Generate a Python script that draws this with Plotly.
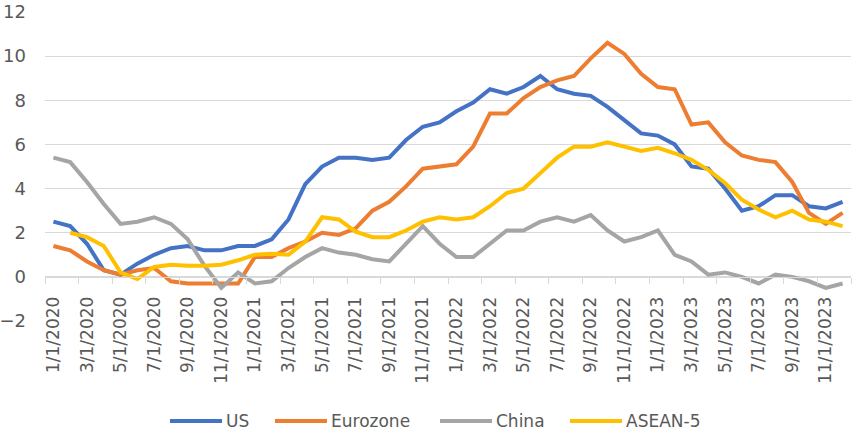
import plotly.graph_objects as go

# ---------------- data ----------------
months = [
    "1/1/2020", "2/1/2020", "3/1/2020", "4/1/2020", "5/1/2020", "6/1/2020",
    "7/1/2020", "8/1/2020", "9/1/2020", "10/1/2020", "11/1/2020", "12/1/2020",
    "1/1/2021", "2/1/2021", "3/1/2021", "4/1/2021", "5/1/2021", "6/1/2021",
    "7/1/2021", "8/1/2021", "9/1/2021", "10/1/2021", "11/1/2021", "12/1/2021",
    "1/1/2022", "2/1/2022", "3/1/2022", "4/1/2022", "5/1/2022", "6/1/2022",
    "7/1/2022", "8/1/2022", "9/1/2022", "10/1/2022", "11/1/2022", "12/1/2022",
    "1/1/2023", "2/1/2023", "3/1/2023", "4/1/2023", "5/1/2023", "6/1/2023",
    "7/1/2023", "8/1/2023", "9/1/2023", "10/1/2023", "11/1/2023", "12/1/2023",
]

us = [2.5, 2.3, 1.5, 0.3, 0.1, 0.6, 1.0, 1.3, 1.4, 1.2, 1.2, 1.4,
      1.4, 1.7, 2.6, 4.2, 5.0, 5.4, 5.4, 5.3, 5.4, 6.2, 6.8, 7.0,
      7.5, 7.9, 8.5, 8.3, 8.6, 9.1, 8.5, 8.3, 8.2, 7.7, 7.1, 6.5,
      6.4, 6.0, 5.0, 4.9, 4.0, 3.0, 3.2, 3.7, 3.7, 3.2, 3.1, 3.4]

eurozone = [1.4, 1.2, 0.7, 0.3, 0.1, 0.3, 0.4, -0.2, -0.3, -0.3, -0.3, -0.3,
            0.9, 0.9, 1.3, 1.6, 2.0, 1.9, 2.2, 3.0, 3.4, 4.1, 4.9, 5.0,
            5.1, 5.9, 7.4, 7.4, 8.1, 8.6, 8.9, 9.1, 9.9, 10.6, 10.1, 9.2,
            8.6, 8.5, 6.9, 7.0, 6.1, 5.5, 5.3, 5.2, 4.3, 2.9, 2.4, 2.9]

china = [5.4, 5.2, 4.3, 3.3, 2.4, 2.5, 2.7, 2.4, 1.7, 0.5, -0.5, 0.2,
         -0.3, -0.2, 0.4, 0.9, 1.3, 1.1, 1.0, 0.8, 0.7, 1.5, 2.3, 1.5,
         0.9, 0.9, 1.5, 2.1, 2.1, 2.5, 2.7, 2.5, 2.8, 2.1, 1.6, 1.8,
         2.1, 1.0, 0.7, 0.1, 0.2, 0.0, -0.3, 0.1, 0.0, -0.2, -0.5, -0.3]

asean5 = [None, 2.0, 1.8, 1.4, 0.2, -0.1, 0.45, 0.55, 0.5, 0.5, 0.55, 0.75,
          1.0, 1.05, 1.0, 1.6, 2.7, 2.6, 2.05, 1.8, 1.8, 2.1, 2.5, 2.7,
          2.6, 2.7, 3.2, 3.8, 4.0, 4.7, 5.4, 5.9, 5.9, 6.1, 5.9, 5.7,
          5.85, 5.6, 5.3, 4.85, 4.25, 3.5, 3.05, 2.7, 3.0, 2.6, 2.5, 2.3]

series_names = ["US", "Eurozone", "China", "ASEAN-5"]
series_values = [us, eurozone, china, asean5]
colors = ["#4472C4", "#ED7D31", "#A5A5A5", "#FFC000"]

y_ticks = [-2, 0, 2, 4, 6, 8, 10, 12]
y_range = [-2, 12]

# ---------------- figure ----------------
x_idx = list(range(len(months)))
label_step = 2
tick_vals = x_idx[::label_step]
tick_text = months[::label_step]
boundary_ticks = [v - 0.5 for v in range(0, len(months) + 1, label_step)]

FONT = "DejaVu Sans"
TXT = "#595959"
GRID = "#D9D9D9"

M_L, M_R, M_T, M_B = 45, 3, 12, 116
W, H = 854, 437

fig = go.Figure()
for name, vals, col in zip(series_names, series_values, colors):
    fig.add_trace(go.Scatter(
        x=x_idx, y=vals, name=name, mode="lines",
        line=dict(color=col, width=4, shape="linear"),
        connectgaps=False, showlegend=False,
    ))

axis_pos = (0 - y_range[0]) / (y_range[1] - y_range[0])

fig.update_layout(
    width=W, height=H,
    margin=dict(l=M_L, r=M_R, t=M_T, b=M_B, autoexpand=False),
    paper_bgcolor="white", plot_bgcolor="white",
    font=dict(family=FONT, color=TXT),
    xaxis=dict(
        range=[-0.5, len(months) - 0.5],
        tickmode="array", tickvals=tick_vals, ticktext=tick_text,
        tickangle=-90, ticks="", showgrid=False, zeroline=False,
        showline=True, linecolor=GRID, linewidth=1,
        anchor="free", position=axis_pos, automargin=False,
        tickfont=dict(family=FONT, size=17, color=TXT),
        ticklabelstandoff=12,
        minor=dict(tickmode="array", tickvals=boundary_ticks,
                   ticks="outside", ticklen=6, tickcolor=GRID,
                   tickwidth=1, showgrid=False),
    ),
    yaxis=dict(
        range=y_range, tickmode="array", tickvals=y_ticks,
        showgrid=True, gridcolor=GRID, gridwidth=1,
        zeroline=False, showline=False, ticks="", automargin=False,
        tickfont=dict(family=FONT, size=18, color=TXT),
        ticklabelstandoff=18,
    ),
)

# custom legend below the chart (Excel style long line samples)
legend_x_px = [170, 275, 440, 570]
sample_len = 52
plot_w = W - M_L - M_R
plot_h = H - M_T - M_B
legend_y = ((H - M_B) - 421) / plot_h
for name, col, px in zip(series_names, colors, legend_x_px):
    x0 = (px - M_L) / plot_w
    x1 = (px + sample_len - M_L) / plot_w
    fig.add_shape(type="line", xref="paper", yref="paper",
                  x0=x0, x1=x1, y0=legend_y, y1=legend_y,
                  line=dict(color=col, width=4))
    fig.add_annotation(xref="paper", yref="paper", x=x1 + 2 / plot_w, y=legend_y,
                       xanchor="left", yanchor="middle", showarrow=False,
                       text=name, font=dict(family=FONT, size=17, color=TXT))

fig.write_html(
    "out.html",
    config={"displayModeBar": False},
    post_script="document.body.style.margin='0';document.body.style.overflow='hidden';",
)
